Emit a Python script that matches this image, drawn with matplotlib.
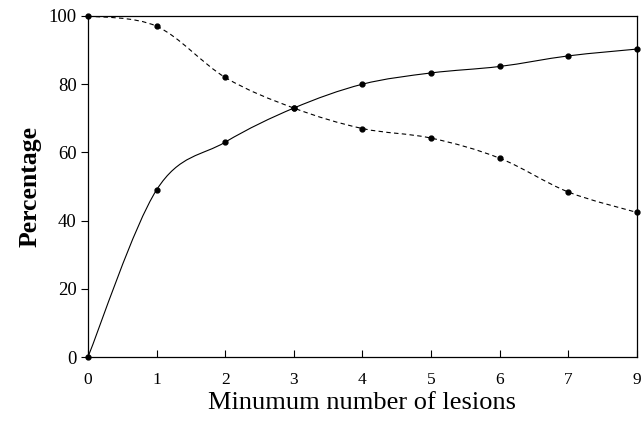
import numpy as np
import matplotlib
matplotlib.use("Agg")
import matplotlib.pyplot as plt
from matplotlib.path import Path
from matplotlib.patches import PathPatch

# categories (last one is 9, drawn at the 8th slot)
lesion_labels = ["0", "1", "2", "3", "4", "5", "6", "7", "9"]
solid_vals = [0, 49, 63, 73, 80, 83.3, 85.2, 88.3, 90.3]
dashed_vals = [100, 97, 82, 73, 67, 64.2, 58.3, 48.4, 42.4]

plt.rcParams['font.family'] = ['Liberation Serif', 'DejaVu Serif']


def smooth_path(xs, ys):
    # catmull-rom through the data points, as cubic bezier segments
    pts = np.column_stack([xs, ys]).astype(float)
    ext = np.vstack([pts[0], pts, pts[-1]])
    verts = [pts[0]]
    codes = [Path.MOVETO]
    for i in range(1, len(ext) - 2):
        p0, p1, p2, p3 = ext[i - 1], ext[i], ext[i + 1], ext[i + 2]
        verts += [p1 + (p2 - p0) / 6, p2 - (p3 - p1) / 6, p2]
        codes += [Path.CURVE4] * 3
    return Path(verts, codes)


fig = plt.figure(figsize=(6.42, 4.21), dpi=100)
ax = fig.add_axes([0.137, 0.152, 0.855, 0.81])

xpos = np.arange(len(lesion_labels))

ax.add_patch(PathPatch(smooth_path(xpos, solid_vals), fill=False,
                       edgecolor='black', lw=0.8))
ax.add_patch(PathPatch(smooth_path(xpos, dashed_vals), fill=False,
                       edgecolor='black', lw=0.8, linestyle=(0, (4, 3))))
ax.plot(xpos, solid_vals, 'o', color='black', ms=3.5, clip_on=False, zorder=5)
ax.plot(xpos, dashed_vals, 'o', color='black', ms=3.5, clip_on=False, zorder=5)

ax.set_xlim(0, 8)
ax.set_ylim(0, 100)
ax.set_xticks(xpos)
ax.set_xticklabels(lesion_labels)
ax.set_yticks([0, 20, 40, 60, 80, 100])

ax.tick_params(axis='x', direction='in', length=5, width=0.8, labelsize=12.5, pad=11)
ax.tick_params(axis='y', direction='out', length=5, width=0.8, labelsize=13.5, pad=3)
for s in ax.spines.values():
    s.set_linewidth(0.9)

ax.set_xlabel("Minumum number of lesions", fontsize=19, labelpad=3)
ax.set_ylabel("Percentage", fontsize=18.5, fontweight='bold', labelpad=5)

fig.savefig("out.png", dpi=100)
